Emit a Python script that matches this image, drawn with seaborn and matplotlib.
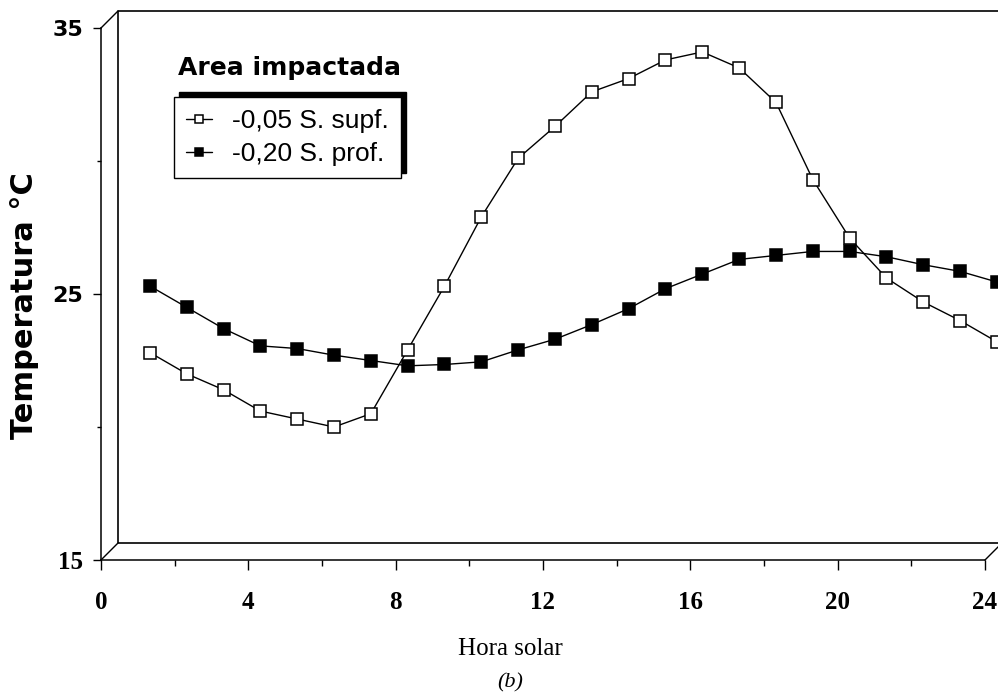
import pandas as pd
import seaborn as sns
from matplotlib import pyplot as plt
from matplotlib.transforms import ScaledTranslation

sns.set_style("ticks")
plt.rcParams["font.family"] = ["DejaVu Sans"]
plt.rcParams["text.color"] = "black"
plt.rcParams["xtick.color"] = "black"
plt.rcParams["ytick.color"] = "black"
plt.rcParams["axes.labelcolor"] = "black"

# hourly soil temperatures (°C)
horas = list(range(1, 25))
temp_supf = [22.8, 22.0, 21.4, 20.6, 20.3, 20.0, 20.5, 22.9, 25.3, 27.9, 30.1, 31.3,
             32.6, 33.1, 33.8, 34.1, 33.5, 32.2, 29.3, 27.1, 25.6, 24.7, 24.0, 23.2]
temp_prof = [25.3, 24.5, 23.7, 23.05, 22.95, 22.7, 22.5, 22.3, 22.35, 22.45, 22.9, 23.3,
             23.85, 24.45, 25.2, 25.75, 26.3, 26.45, 26.6, 26.6, 26.4, 26.1, 25.85, 25.45]
series = ["-0,05 S. supf.", "-0,20 S. prof."]
x_ticks = [0, 4, 8, 12, 16, 20, 24]
y_ticks = [15, 25, 35]

df = pd.DataFrame({
    "hora": horas * 2,
    "temp": temp_supf + temp_prof,
    "serie": [series[0]] * len(horas) + [series[1]] * len(horas),
})

fig = plt.figure(figsize=(9.98, 6.95), dpi=100)
ax = fig.add_axes([101 / 998, 135 / 695, 884 / 998, 532 / 695])

for name, face in zip(series, ["white", "black"]):
    sns.lineplot(
        data=df[df["serie"] == name], x="hora", y="temp", ax=ax,
        color="black", linewidth=1.0, marker="s", markersize=8,
        markerfacecolor=face, markeredgecolor="black", markeredgewidth=1.1,
        label=name,
    )

# points sit on the back wall of the pseudo-3D frame
data_off = ScaledTranslation(12 / 100, 0, fig.dpi_scale_trans)
for line in ax.lines:
    line.set_transform(line.get_transform() + data_off)
    line.set_clip_on(False)

ax.set_xlim(0, 24)
ax.set_ylim(15, 35)
ax.set_xlabel("")
ax.set_ylabel("")
sns.despine(ax=ax)
for side in ["left", "bottom"]:
    ax.spines[side].set_linewidth(1.1)
    ax.spines[side].set_color("black")

# back wall + depth edges
wall = ax.transAxes + ScaledTranslation(17 / 100, 17 / 100, fig.dpi_scale_trans)
ax.plot([1.05, 0, 0, 1.05], [1, 1, 0, 0], transform=wall, color="black",
        linewidth=1.2, clip_on=False)
for corner in [(0, 0), (0, 1), (1, 0)]:
    ax.annotate("", xy=corner, xycoords="axes fraction", xytext=(17, 17),
                textcoords="offset pixels",
                arrowprops=dict(arrowstyle="-", lw=1.0, color="black",
                                shrinkA=0, shrinkB=0))

ax.set_xticks(x_ticks, labels=[str(v) for v in x_ticks])
ax.set_xticks(range(2, 24, 4), minor=True)
ax.set_yticks(y_ticks, labels=[str(v) for v in y_ticks])
ax.set_yticks([20, 30], minor=True)
ax.tick_params(axis="x", which="major", length=7, width=1, pad=15)
ax.tick_params(axis="x", which="minor", length=4, width=1)
ax.tick_params(axis="y", which="major", length=6, width=1, pad=7)
ax.tick_params(axis="y", which="minor", length=3, width=1)
for lab in ax.get_xticklabels():
    lab.set_fontfamily("Liberation Serif")
    lab.set_fontweight("bold")
    lab.set_fontsize(18)
for lab in ax.get_yticklabels():
    lab.set_fontweight("bold")
    lab.set_fontsize(16)
    if lab.get_text() == "15":
        lab.set_fontfamily("Liberation Serif")
        lab.set_fontsize(18)

leg = ax.legend(
    loc="upper left", bbox_to_anchor=(174 / 998, 1 - 97 / 695),
    bbox_transform=fig.transFigure, borderaxespad=0, frameon=True,
    fancybox=False, edgecolor="black", framealpha=1,
    shadow={"ox": 3.5, "oy": 3.5, "color": "black", "alpha": 1},
    prop={"family": "Liberation Sans", "size": 19},
    handlelength=1.0, handletextpad=0.75, labelspacing=0.36, borderpad=0.45,
    markerscale=0.8,
)
leg.get_frame().set_linewidth(1.0)

fig.text(289 / 998, 1 - 75 / 695, "Area impactada", ha="center", va="baseline",
         fontsize=18, fontweight="bold")
fig.text(25 / 998, 1 - 306 / 695, "Temperatura °C", ha="center", va="center",
         rotation=90, fontsize=22, fontweight="bold")
fig.text(510 / 998, 1 - 655 / 695, "Hora solar", ha="center", va="baseline",
         fontsize=18, family="Liberation Serif")
fig.text(510 / 998, 1 - 687 / 695, "(b)", ha="center", va="baseline",
         fontsize=16, family="Liberation Serif", style="italic")

plt.savefig("out.png", dpi=100)
